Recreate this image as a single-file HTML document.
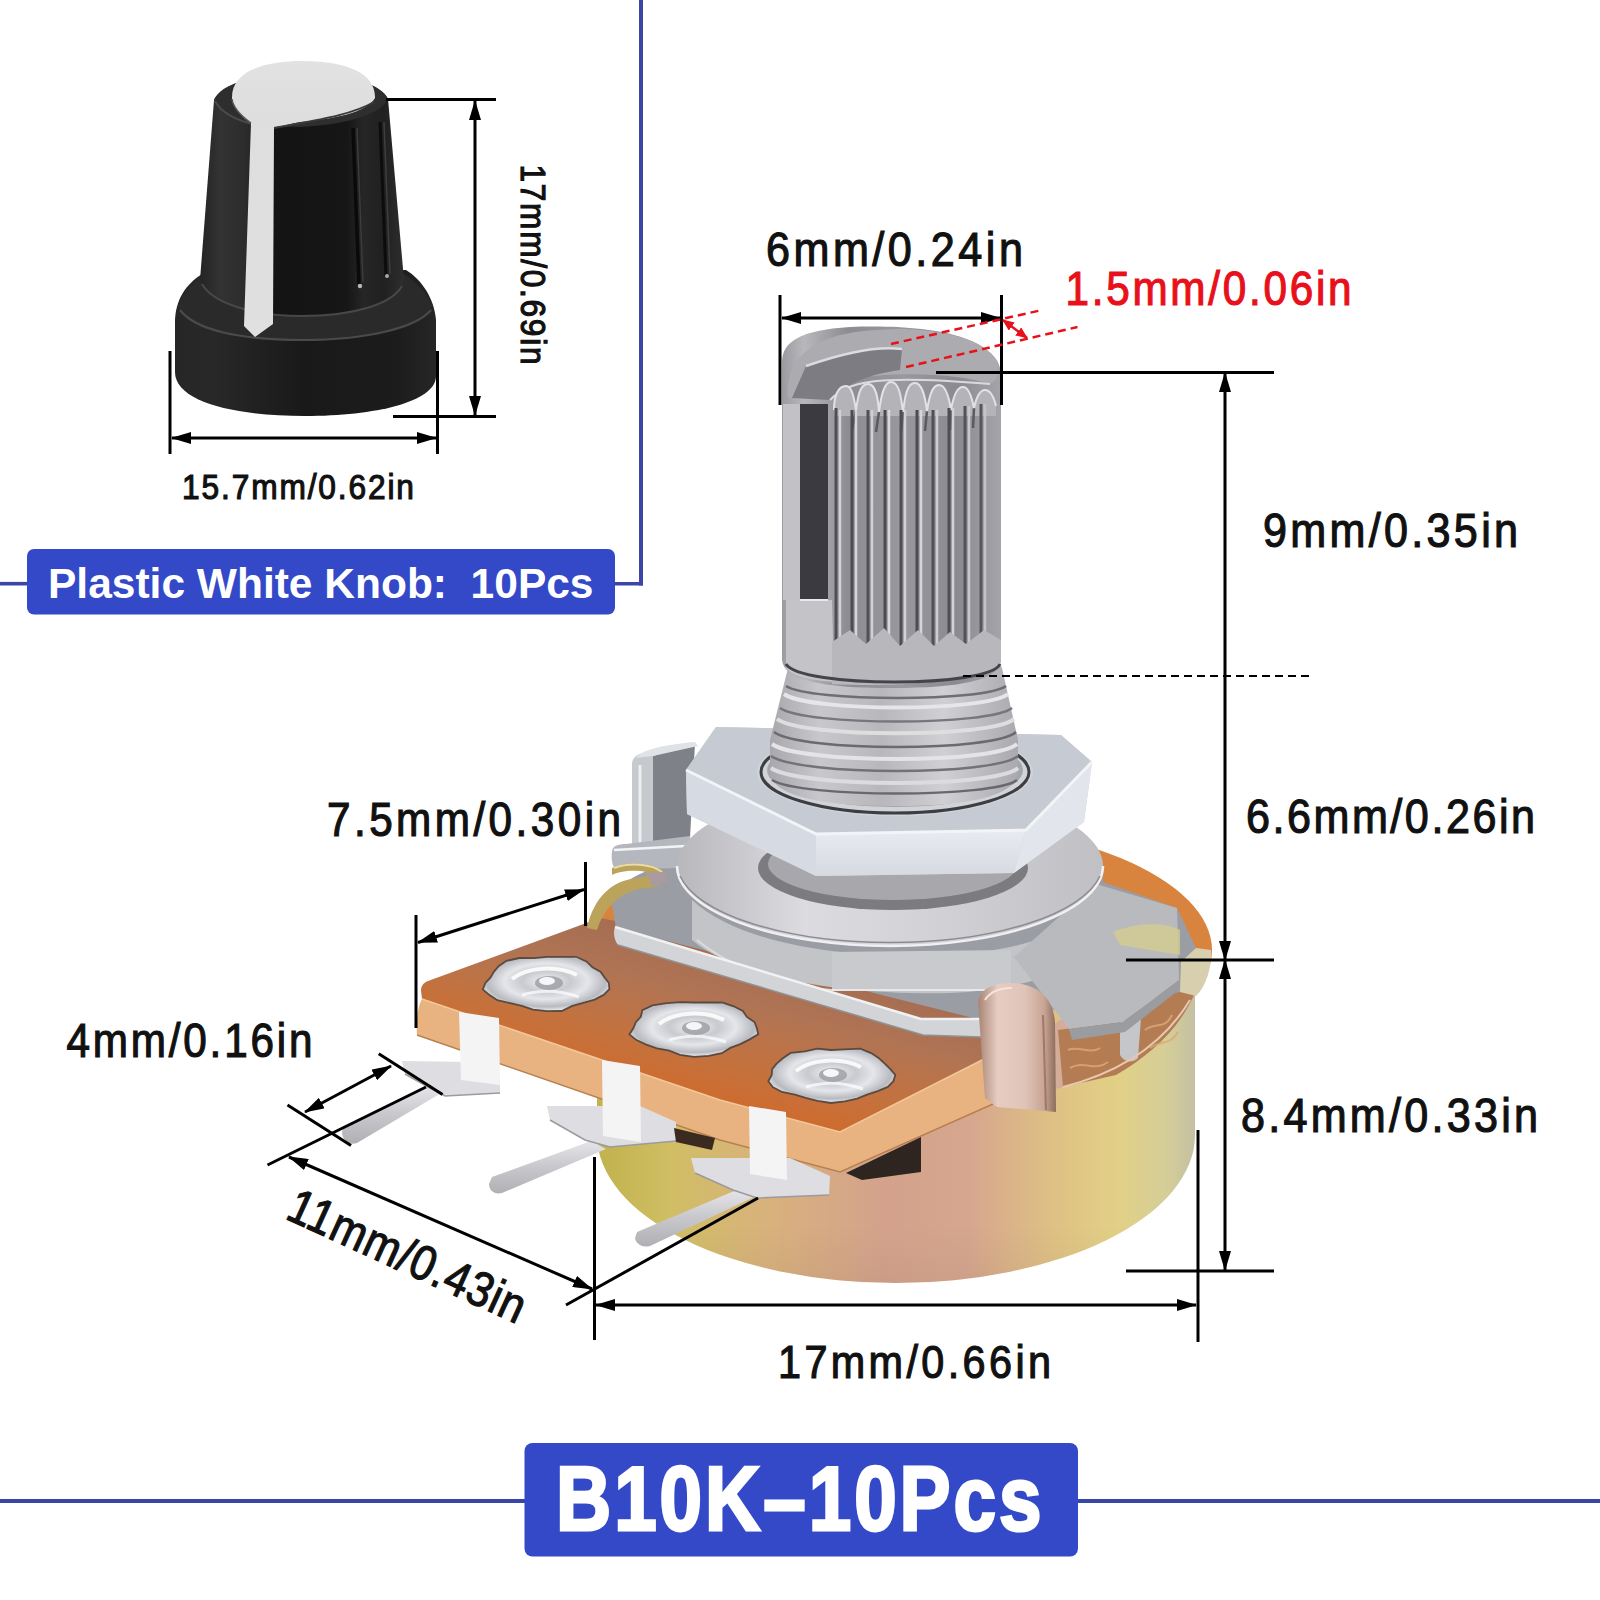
<!DOCTYPE html>
<html><head><meta charset="utf-8">
<style>
html,body{margin:0;padding:0;background:#fff;}
#root{position:relative;width:1600px;height:1600px;overflow:hidden;background:#fff;}
svg{position:absolute;left:0;top:0;}
text{font-family:"Liberation Sans",sans-serif;}
</style></head>
<body><div id="root">
<svg width="1600" height="1600" viewBox="0 0 1600 1600">
<defs>
  <marker id="ah" viewBox="0 0 20 12" refX="19" refY="6" markerWidth="20" markerHeight="12" markerUnits="userSpaceOnUse" orient="auto-start-reverse">
    <path d="M0,0 L20,6 L0,12 z" fill="#000"/>
  </marker>
  <marker id="ahr" viewBox="0 0 12 10" refX="11" refY="5" markerWidth="12" markerHeight="10" markerUnits="userSpaceOnUse" orient="auto-start-reverse">
    <path d="M0,0 L12,5 L0,10 z" fill="#e8101a"/>
  </marker>
</defs>

<!-- ============ KNOB ============ -->
<g id="knob">
  <defs>
    <linearGradient id="kbody" x1="200" y1="0" x2="404" y2="0" gradientUnits="userSpaceOnUse">
      <stop offset="0" stop-color="#242424"/>
      <stop offset="0.1" stop-color="#333"/>
      <stop offset="0.22" stop-color="#2c2c2c"/>
      <stop offset="0.36" stop-color="#141414"/>
      <stop offset="0.72" stop-color="#161616"/>
      <stop offset="0.8" stop-color="#262626"/>
      <stop offset="0.9" stop-color="#202020"/>
      <stop offset="1" stop-color="#2e2e2e"/>
    </linearGradient>
    <linearGradient id="kskirt" x1="174" y1="0" x2="436" y2="0" gradientUnits="userSpaceOnUse">
      <stop offset="0" stop-color="#262626"/>
      <stop offset="0.15" stop-color="#282828"/>
      <stop offset="0.5" stop-color="#191919"/>
      <stop offset="0.85" stop-color="#1c1c1c"/>
      <stop offset="1" stop-color="#262626"/>
    </linearGradient>
    <linearGradient id="kwhite" x1="0" y1="61" x2="0" y2="335" gradientUnits="userSpaceOnUse">
      <stop offset="0" stop-color="#e2e2e2"/>
      <stop offset="0.2" stop-color="#dedede"/>
      <stop offset="1" stop-color="#e0e0e0"/>
    </linearGradient>
  </defs>
  <!-- skirt side -->
  <path d="M175,322 C175,300 186,284 202,274 L406,270 C422,280 434,298 436,320 L436,376 C436,402 375,416 305,416 C235,416 175,402 175,372 Z" fill="url(#kskirt)"/>
  <!-- skirt top ring -->
  <path d="M178,306 C186,290 196,280 204,276 L404,274 C416,282 426,292 432,306 C420,326 370,340 303,340 C236,340 188,326 178,306 Z" fill="#2a2a2a"/>
  <path d="M180,310 C195,330 240,340 303,340 C366,340 416,328 431,310" stroke="#4a4a4a" stroke-width="2.2" fill="none"/>
  <!-- upper body -->
  <path d="M214,100 C222,84 250,74 301,74 C352,74 380,84 388,99 L404,280 C400,300 360,316 302,316 C244,316 204,300 200,280 Z" fill="url(#kbody)"/>
  <path d="M202,284 C212,302 250,316 302,316 C354,316 392,304 402,286" stroke="#484848" stroke-width="2" fill="none"/>
  <!-- rim top -->
  <path d="M214,100 C220,86 245,76 301,75 C357,76 382,86 388,99 C382,112 355,124 300,127 C245,126 220,114 214,100 Z" fill="#2e2e2e"/>
  <path d="M215,101 C222,114 240,122 262,126" stroke="#4a4a4a" stroke-width="2" fill="none"/>
  <!-- ribs -->
  <path d="M353,128 L359,284" stroke="#0a0a0a" stroke-width="3.5" fill="none"/>
  <path d="M357,128 L363,282" stroke="#3c3c3c" stroke-width="1.5" fill="none"/>
  <path d="M380,122 L386,276" stroke="#0c0c0c" stroke-width="3" fill="none"/>
  <path d="M384,122 L390,274" stroke="#3e3e3e" stroke-width="1.5" fill="none"/>
  <circle cx="360" cy="286" r="2.2" fill="#b8b8b8"/>
  <circle cx="387" cy="276" r="2" fill="#a8a8a8"/>
  <!-- white dome + stripe -->
  <path d="M232,99 C231,72 262,61 303,61 C344,61 376,72 375,98 C368,110 345,118 300,122 C290,124 282,126 274,128 L273,324 L255,337 L244,326 L251,123 C242,118 233,108 232,99 Z" fill="url(#kwhite)"/>
  <path d="M274,128 C310,121 350,116 374,102" stroke="#3a3a3a" stroke-width="2" fill="none"/>
  <path d="M251,123 C240,115 233,108 232,99" stroke="#555" stroke-width="1.5" fill="none"/>
</g>

<!-- ============ POT ============ -->
<g id="pot">
  <defs>
    <linearGradient id="can" x1="597" y1="0" x2="1195" y2="0" gradientUnits="userSpaceOnUse">
      <stop offset="0" stop-color="#c0b24c"/>
      <stop offset="0.12" stop-color="#d0be64"/>
      <stop offset="0.28" stop-color="#d8b27c"/>
      <stop offset="0.48" stop-color="#d4a28c"/>
      <stop offset="0.62" stop-color="#d6a68e"/>
      <stop offset="0.76" stop-color="#dec084"/>
      <stop offset="0.87" stop-color="#e2d086"/>
      <stop offset="0.95" stop-color="#d6ce98"/>
      <stop offset="1" stop-color="#c4c0a2"/>
    </linearGradient>
    <linearGradient id="canv" x1="0" y1="990" x2="0" y2="1283" gradientUnits="userSpaceOnUse">
      <stop offset="0" stop-color="#fff" stop-opacity="0"/>
      <stop offset="0.8" stop-color="#000" stop-opacity="0.0"/>
      <stop offset="1" stop-color="#000" stop-opacity="0.04"/>
    </linearGradient>
    <linearGradient id="shaft" x1="782" y1="0" x2="1001" y2="0" gradientUnits="userSpaceOnUse">
      <stop offset="0" stop-color="#9a9aa0"/>
      <stop offset="0.1" stop-color="#b8b8bc"/>
      <stop offset="0.3" stop-color="#8c8c92"/>
      <stop offset="0.55" stop-color="#98989e"/>
      <stop offset="0.8" stop-color="#8a8a90"/>
      <stop offset="1" stop-color="#a4a4aa"/>
    </linearGradient>
    <linearGradient id="bush" x1="770" y1="0" x2="1018" y2="0" gradientUnits="userSpaceOnUse">
      <stop offset="0" stop-color="#a8a8ac"/>
      <stop offset="0.2" stop-color="#c8c8cc"/>
      <stop offset="0.45" stop-color="#b8b8bc"/>
      <stop offset="0.7" stop-color="#d0d0d4"/>
      <stop offset="1" stop-color="#aaaaae"/>
    </linearGradient>
    <linearGradient id="nutfront" x1="0" y1="830" x2="0" y2="876" gradientUnits="userSpaceOnUse">
      <stop offset="0" stop-color="#e8ebf0"/>
      <stop offset="1" stop-color="#d6d9e0"/>
    </linearGradient>
    <linearGradient id="washer" x1="677" y1="0" x2="1103" y2="0" gradientUnits="userSpaceOnUse">
      <stop offset="0" stop-color="#b8b8bc"/>
      <stop offset="0.3" stop-color="#dcdce0"/>
      <stop offset="0.6" stop-color="#d2d2d6"/>
      <stop offset="1" stop-color="#c0c0c4"/>
    </linearGradient>
    <linearGradient id="pcbtop" x1="700" y1="935" x2="660" y2="1095" gradientUnits="userSpaceOnUse">
      <stop offset="0" stop-color="#a46c52"/>
      <stop offset="0.35" stop-color="#b07454"/>
      <stop offset="0.7" stop-color="#c4723e"/>
      <stop offset="1" stop-color="#d06a2c"/>
    </linearGradient>
    <linearGradient id="pin" x1="0" y1="0" x2="0" y2="1">
      <stop offset="0" stop-color="#e6e6ea"/>
      <stop offset="0.5" stop-color="#c8c8cc"/>
      <stop offset="1" stop-color="#b0b0b4"/>
    </linearGradient>
    <radialGradient id="pad" cx="0.5" cy="0.45" r="0.55">
      <stop offset="0" stop-color="#f2f4f6"/>
      <stop offset="0.35" stop-color="#c8cacf"/>
      <stop offset="0.6" stop-color="#e4e6ea"/>
      <stop offset="0.85" stop-color="#b8bac0"/>
      <stop offset="1" stop-color="#eef0f2"/>
    </radialGradient>
    <linearGradient id="clip" x1="0" y1="0" x2="1" y2="0">
      <stop offset="0" stop-color="#a88474"/>
      <stop offset="0.25" stop-color="#e6ccc2"/>
      <stop offset="0.6" stop-color="#e0c4b8"/>
      <stop offset="0.85" stop-color="#c8a494"/>
      <stop offset="1" stop-color="#8c6c5c"/>
    </linearGradient>
  </defs>

  <!-- back orange disk -->
  <ellipse cx="900" cy="950" rx="312" ry="130" fill="#d8843f"/>
  <!-- can body -->
  <path d="M597,995 L1195,995 L1195,1135 A299,148 0 0 1 597,1135 Z" fill="url(#can)"/>
  <path d="M597,995 L1195,995 L1195,1135 A299,148 0 0 1 597,1135 Z" fill="url(#canv)"/>
  <!-- can top lip (pinkish) -->
  <path d="M1197,992 C1170,1040 1110,1075 1063,1087 L985,1108 L960,1095 L1060,1020 L1190,975 Z" fill="#d4ac9a"/>
  <!-- copper crinkle band -->
  <path d="M1058,1030 L1120,1022 L1180,985 L1196,990 C1180,1030 1150,1055 1116,1075 L1063,1087 Z" fill="#b47c52"/>
  <g fill="none" stroke="#e0a878" stroke-width="2" opacity="0.8">
    <path d="M1068,1050 C1078,1045 1090,1055 1100,1048"/>
    <path d="M1070,1068 C1085,1060 1095,1072 1108,1062"/>
    <path d="M1145,1030 C1155,1022 1165,1030 1172,1015"/>
    <path d="M1150,1048 C1160,1040 1170,1046 1178,1032"/>
  </g>
  <path d="M1120,1022 L1141,1018 L1138,1058 C1132,1064 1124,1062 1120,1055 Z" fill="#c4c6ca"/>
  <path d="M1063,1087 C1110,1075 1160,1050 1190,1000" stroke="#e8c8b0" stroke-width="2" fill="none"/>

  <!-- PCB tab -->
  <path d="M421,991 C421,986 423,983 428,981 L600,918 L1000,995 L1000,1055 L992,1055 L840,1132 L720,1100 L422,999 Z" fill="url(#pcbtop)"/>
  <path d="M422,999 L720,1100 L840,1132 L992,1055 L993,1104 L840,1172 L720,1140 L417,1035 C416,1020 418,1006 422,999 Z" fill="#e9b381"/>
  <path d="M422,999 L720,1100 L840,1132 L992,1055" stroke="#f2c898" stroke-width="1.5" fill="none"/>
  <path d="M417,1035 L720,1140 L840,1172 L993,1104" stroke="#b88050" stroke-width="1.5" fill="none"/>

  <!-- bracket plate top surface -->
  <path d="M612,905 C613,890 625,878 660,866 L1103,866 L1103,882 L1177,908 L1196,948 L1196,990 L981,1020 L616,928 Z" fill="#9a9ea4"/>
  <!-- boss under washer -->
  <path d="M692,900 C740,945 850,960 950,955 C1030,950 1090,925 1106,900 L1106,935 C1090,970 1020,990 950,993 C850,995 740,980 692,940 Z" fill="#c2c4c8"/>
  <path d="M832,952 L1011,950 L1011,990 L832,990 Z" fill="#c8cacd"/>
  <path d="M832,990 L1011,990" stroke="#e6e8ea" stroke-width="2" fill="none"/>
  <path d="M697,940 C740,975 800,988 832,990" stroke="#dadcde" stroke-width="2" fill="none"/>
  <!-- plate front face -->
  <path d="M615,927 L921,1019 L981,1019 L981,1037 L923,1035 L618,945 C614,940 613,932 615,927 Z" fill="#d2d4d8"/>
  <path d="M615,927 L921,1019 L981,1019" stroke="#f0f2f4" stroke-width="2.5" fill="none"/>
  <path d="M618,945 L923,1035 L981,1037" stroke="#909296" stroke-width="1.5" fill="none"/>

  <!-- can lip right corner -->
  <path d="M1181,962 L1196,948 L1211,950 C1212,968 1206,986 1196,996 L1180,992 Z" fill="#d8cfae"/>
  <!-- gray clip block right -->
  <path d="M1014,957 L1096,884 L1177,908 L1179,980 L1123,1022 L1069,1029 Z" fill="#b8babe"/>
  <path d="M1069,1029 L1123,1022 L1179,980 L1179,990 L1125,1032 L1072,1040 Z" fill="#9a9ca0"/>
  <path d="M1113,932 C1130,925 1160,920 1180,930 L1180,955 L1120,945 Z" fill="#d4cc90" opacity="0.8"/>

  <!-- left small lug tab -->
  <path d="M653,756 L695,743 L690,838 L653,852 Z" fill="#7e8288"/>
  <path d="M632,764 C632,756 640,752 653,752 L653,852 L632,860 Z" fill="#c6c9ce"/>
  <path d="M636,758 C642,750 660,745 695,742 L698,746 L653,756 Z" fill="#dfe2e6"/>
  <path d="M640,765 L640,850" stroke="#eceef0" stroke-width="3" fill="none"/>
  <!-- ear plate -->
  <path d="M612,852 C612,846 618,844 626,844 L690,836 L692,852 L676,868 L616,870 C612,866 611,858 612,852 Z" fill="#b4b8be"/>
  <path d="M614,850 L686,846" stroke="#f2f4f6" stroke-width="2.5" fill="none"/>
  <!-- brass clip -->
  <path d="M612,868 C628,860 655,862 665,873 C669,881 661,887 646,888 C626,890 606,902 597,930 L587,928 C594,897 612,880 638,878 C650,877 652,872 640,871 C628,870 618,872 612,875 Z" fill="#bba35c"/>
  <path d="M614,868 C630,862 652,864 662,872" stroke="#eadca8" stroke-width="2" fill="none"/>
  <path d="M647,873 L664,872 L668,882 L652,886 Z" fill="#a89aa0"/>

  <!-- washer -->
  <ellipse cx="890" cy="866" rx="213" ry="80" fill="url(#washer)"/>
  <path d="M677,866 A213,80 0 0 0 1103,866" fill="none" stroke="#f0f0f4" stroke-width="2.5"/>
  <path d="M680,876 A213,80 0 0 0 1100,876" fill="none" stroke="#8c8c90" stroke-width="1.5"/>
  <!-- threads under nut -->
  <ellipse cx="893" cy="868" rx="135" ry="42" fill="#7c7c80"/>
  <ellipse cx="893" cy="864" rx="125" ry="36" fill="#a8a8ac"/>

  <!-- hex nut -->
  <path d="M686,770 L716,727 L1061,735 L1092,762 L1084,822 L1014,873 L816,876 L687,814 Z" fill="#ccd0d8"/>
  <path d="M686,770 L816,834 L816,876 L687,814 Z" fill="#d6dae2"/>
  <path d="M816,834 L1026,830 L1014,873 L816,876 Z" fill="url(#nutfront)"/>
  <path d="M1026,830 L1092,762 L1084,822 L1014,873 Z" fill="#e2e6ec"/>
  <path d="M716,727 L1061,735 L1092,762 L1026,830 L816,834 L686,770 Z" fill="#c6cad2"/>
  <path d="M686,770 L816,834 L1026,830 L1092,762" fill="none" stroke="#f2f4f8" stroke-width="3"/>
  <!-- nut inner ring -->
  <ellipse cx="895" cy="772" rx="138" ry="44" fill="#d0d3d8"/>
  <ellipse cx="895" cy="772" rx="134" ry="41" fill="none" stroke="#3c3e44" stroke-width="3"/>
  <ellipse cx="895" cy="770" rx="128" ry="37" fill="#a4a6aa"/>

  <!-- threaded bushing -->
  <path d="M788,668 C792,656 830,650 895,650 C960,650 998,656 1002,668 L1018,740 L1018,772 C1016,796 970,806 895,806 C820,806 772,796 770,772 L770,740 Z" fill="url(#bush)"/>
  <g fill="none" stroke-width="2.5">
    <path d="M786,686 C810,702 985,702 1006,686" stroke="#6e6e74"/>
    <path d="M780,708 C805,726 990,726 1012,708" stroke="#76767c"/>
    <path d="M774,732 C800,752 995,752 1016,732" stroke="#6a6a70"/>
    <path d="M771,756 C800,776 995,776 1018,756" stroke="#727278"/>
    <path d="M772,780 C800,798 995,798 1017,780" stroke="#68686e"/>
  </g>
  <g fill="none" stroke-width="4">
    <path d="M784,694 C810,712 985,712 1008,694" stroke="#e6e6ea"/>
    <path d="M777,719 C802,738 992,738 1014,719" stroke="#dededf"/>
    <path d="M772,744 C800,764 995,764 1017,744" stroke="#e4e4e8"/>
    <path d="M771,768 C800,788 995,788 1018,768" stroke="#dcdce0"/>
  </g>
  

  <!-- shaft -->
  <path d="M782,362 C782,342 800,330 850,327 C930,324 995,336 1001,372 L1001,660 C1001,680 960,688 892,688 C820,688 784,680 782,660 Z" fill="url(#shaft)"/>
  <!-- shaft top face -->
  <path d="M788,398 C786,368 800,346 840,335 C900,322 980,330 998,362 C1000,374 996,382 990,384 C960,374 900,370 840,380 L828,398 Z" fill="#acacb0"/>
  <path d="M792,398 L806,366 C846,352 880,346 902,349 L900,370 C872,374 848,382 830,400 Z" fill="#7c7c82"/>
  <path d="M806,366 C846,352 880,346 902,349" stroke="#dcdce0" stroke-width="2.5" fill="none"/>
  <path d="M830,400 C848,382 872,374 990,384" stroke="#dadade" stroke-width="2" fill="none"/>
  <!-- crown teeth -->
  <path d="M834,410 C834,396 838,386 846,386 C852,386 854,398 856,410 C858,396 860,384 868,384 C876,384 878,398 879,412 C881,396 884,382 891,382 C899,382 901,396 903,412 C905,396 907,383 915,383 C922,383 925,396 927,411 C929,397 932,385 939,385 C946,385 949,397 951,410 C953,398 956,387 963,387 C969,387 972,398 974,408 C976,399 979,390 985,390 C991,390 994,398 996,406 L996,416 L834,416 Z" fill="#b4b4b8"/>
  <g fill="none" stroke="#5a5a60" stroke-width="2.5">
    <path d="M856,410 L852,430"/><path d="M879,412 L876,432"/><path d="M903,412 L901,432"/><path d="M927,411 L925,431"/><path d="M951,410 L950,430"/><path d="M974,408 L973,428"/>
  </g>
  <path d="M834,410 C834,396 838,386 846,386 C852,386 854,398 856,410 C858,396 860,384 868,384 C876,384 878,398 879,412 C881,396 884,382 891,382 C899,382 901,396 903,412 C905,396 907,383 915,383 C922,383 925,396 927,411 C929,397 932,385 939,385 C946,385 949,397 951,410 C953,398 956,387 963,387 C969,387 972,398 974,408 C976,399 979,390 985,390 C991,390 994,398 996,406" fill="none" stroke="#e2e2e6" stroke-width="2"/>
  <!-- slot -->
  <rect x="800" y="404" width="28" height="196" fill="#3a3a40"/>
  <rect x="783" y="404" width="17" height="196" fill="#c2c2c6"/>
  <path d="M786,600 L832,600 L834,682 C810,680 790,676 786,668 Z" fill="#c4c4c8"/>
  <path d="M800,600 L828,600" stroke="#e8e8ec" stroke-width="2" fill="none"/>
  <!-- ribs -->
  <g stroke-width="3" fill="none">
    <path d="M836,408 L836,655" stroke="#4e4e54"/>
    <path d="M852,410 L852,660" stroke="#4c4c52"/>
    <path d="M868,410 L868,660" stroke="#505056"/>
    <path d="M885,410 L885,662" stroke="#4a4a50"/>
    <path d="M901,410 L901,662" stroke="#4e4e54"/>
    <path d="M917,410 L917,662" stroke="#4c4c52"/>
    <path d="M933,410 L933,660" stroke="#505056"/>
    <path d="M949,408 L949,658" stroke="#4e4e54"/>
    <path d="M965,406 L965,655" stroke="#525258"/>
    <path d="M981,404 L981,650" stroke="#56565c"/>
  </g>
  <g stroke-width="2.5" fill="none">
    <path d="M840,410 L840,655" stroke="#d2d2d6"/>
    <path d="M856,410 L856,660" stroke="#d6d6da"/>
    <path d="M872,410 L872,660" stroke="#d0d0d4"/>
    <path d="M889,410 L889,662" stroke="#d8d8dc"/>
    <path d="M905,410 L905,662" stroke="#d2d2d6"/>
    <path d="M921,410 L921,662" stroke="#d6d6da"/>
    <path d="M937,410 L937,660" stroke="#cccccf"/>
    <path d="M953,408 L953,658" stroke="#d2d2d6"/>
    <path d="M969,406 L969,655" stroke="#c8c8cc"/>
    <path d="M985,404 L985,650" stroke="#c4c4c8"/>
  </g>
  <path d="M832,642 L850,630 L866,644 L884,628 L900,646 L918,630 L934,646 L950,632 L966,644 L984,630 L1001,640 L1001,662 C990,680 900,688 832,684 Z" fill="#b8b8bc"/>
  <path d="M786,664 C800,688 990,688 1000,664" stroke="#44444a" stroke-width="3" fill="none"/>

  <!-- solder pads -->
  <path d="M608.9,983.0 L609.4,989.2 L603.6,994.9 L594.7,999.6 L583.2,1002.8 L572.3,1005.9 L561.7,1011.0 L547.0,1011.2 L533.0,1009.7 L521.8,1005.8 L510.2,1003.1 L497.4,1000.2 L489.5,995.1 L482.8,989.4 L485.4,983.0 L490.6,977.4 L493.8,971.8 L498.6,966.2 L506.4,960.8 L519.4,958.0 L534.0,958.2 L547.0,956.8 L560.7,956.9 L576.0,956.8 L586.5,961.4 L592.4,967.2 L600.5,971.8 L604.4,977.3 Z" fill="url(#pad)" stroke="#5a4a40" stroke-width="1.8"/>
  <path d="M512,979 C527,967 557,965 577,975" stroke="#ffffff" stroke-width="4" fill="none" opacity="0.85"/>
  <path d="M522,995 C542,989 562,991 579,997" stroke="#ffffff" stroke-width="3" fill="none" opacity="0.7"/>
  <ellipse cx="549" cy="983" rx="14" ry="7" fill="#9a9ca2" opacity="0.8"/>
  <ellipse cx="547" cy="981" rx="8" ry="4" fill="#f4f6f8"/>
  <path d="M756.8,1028.0 L758.2,1034.4 L749.3,1039.6 L740.4,1044.1 L730.4,1047.9 L721.9,1053.2 L708.6,1055.8 L694.0,1056.9 L680.0,1054.8 L669.1,1050.6 L656.9,1048.3 L646.2,1044.6 L636.5,1040.1 L629.4,1034.4 L633.4,1028.0 L635.8,1022.2 L640.8,1016.8 L642.4,1010.1 L652.6,1005.4 L666.6,1003.2 L680.5,1002.2 L694.0,1002.5 L707.4,1002.5 L722.1,1002.5 L733.7,1006.3 L742.9,1011.0 L746.9,1016.9 L754.5,1022.0 Z" fill="url(#pad)" stroke="#5a4a40" stroke-width="1.8"/>
  <path d="M659,1024 C674,1012 704,1010 724,1020" stroke="#ffffff" stroke-width="4" fill="none" opacity="0.85"/>
  <path d="M669,1040 C689,1034 709,1036 726,1042" stroke="#ffffff" stroke-width="3" fill="none" opacity="0.7"/>
  <ellipse cx="696" cy="1028" rx="14" ry="7" fill="#9a9ca2" opacity="0.8"/>
  <ellipse cx="694" cy="1026" rx="8" ry="4" fill="#f4f6f8"/>
  <path d="M895.3,1075.0 L893.4,1081.2 L887.8,1086.9 L877.7,1091.2 L867.1,1094.7 L857.2,1098.7 L844.8,1101.4 L831.0,1103.0 L817.5,1100.8 L805.7,1097.9 L794.9,1094.7 L782.0,1092.0 L773.0,1087.2 L768.3,1081.2 L771.7,1075.0 L772.1,1069.1 L776.6,1063.6 L782.8,1058.3 L790.6,1052.9 L804.9,1051.4 L817.2,1048.7 L831.0,1050.0 L844.5,1049.3 L860.2,1048.6 L871.2,1053.1 L879.0,1058.3 L884.8,1063.7 L890.4,1069.1 Z" fill="url(#pad)" stroke="#5a4a40" stroke-width="1.8"/>
  <path d="M796,1071 C811,1059 841,1057 861,1067" stroke="#ffffff" stroke-width="4" fill="none" opacity="0.85"/>
  <path d="M806,1087 C826,1081 846,1083 863,1089" stroke="#ffffff" stroke-width="3" fill="none" opacity="0.7"/>
  <ellipse cx="833" cy="1075" rx="14" ry="7" fill="#9a9ca2" opacity="0.8"/>
  <ellipse cx="831" cy="1073" rx="8" ry="4" fill="#f4f6f8"/>

  <!-- pins -->
  <g fill="url(#pin)">
    <path d="M426,1086 L443,1092 L357,1143 C349,1146 342,1140 342,1132 L344,1127 Z"/>
    <path d="M591,1141 L606,1149 L502,1193 C494,1195 489,1190 489,1184 L492,1177 Z"/>
    <path d="M739,1189 L754,1197 L650,1246 C642,1248 636,1244 635,1238 L637,1232 Z"/>
  </g>
  <g fill="#dedee2">
    <path d="M402,1061 L470,1062 L500,1076 L500,1093 L445,1096 L430,1088 L405,1074 Z"/>
    <path d="M547,1106 L640,1106 L676,1122 L676,1141 L610,1147 L585,1140 L550,1120 Z"/>
    <path d="M691,1158 L790,1158 L830,1176 L829,1195 L757,1198 L733,1190 L695,1173 Z"/>
  </g>
  <g fill="none" stroke="#9a9aa0" stroke-width="1.5">
    <path d="M405,1074 L430,1088 L445,1096 L500,1093"/>
    <path d="M550,1120 L585,1140 L610,1147 L676,1141"/>
    <path d="M695,1173 L733,1190 L757,1198 L829,1195"/>
  </g>
  <!-- lugs -->
  <g fill="#f4f4f4">
    <path d="M459,1012 L499,1018 L500,1085 L461,1080 Z"/>
    <path d="M602,1060 L640,1066 L641,1142 L603,1136 Z"/>
    <path d="M749,1106 L786,1112 L787,1180 L750,1174 Z"/>
  </g>
  <!-- dark gaps under pcb -->
  <path d="M674,1128 L715,1138 L712,1150 L676,1142 Z" fill="#3a2a20"/>
  <path d="M846,1173 L921,1137 L921,1172 L862,1180 Z" fill="#2e2420"/>

  <!-- front clip tab -->
  <path d="M978,1002 C979,990 992,983 1012,983 C1038,984 1053,998 1055,1022 L1056,1112 L997,1107 L985,1098 Z" fill="url(#clip)"/>
  <path d="M985,1000 C990,992 1000,988 1012,988" stroke="#f4e4dc" stroke-width="2" fill="none"/>
  <path d="M1043,1015 L1046,1110" stroke="#a07868" stroke-width="2" fill="none"/>
</g>


<!-- ============ DIMENSIONS ============ -->
<g id="dims" stroke="#000" stroke-width="3" fill="none">
  <!-- knob height -->
  <line x1="386" y1="99.5" x2="496" y2="99.5"/>
  <line x1="393" y1="416.5" x2="496" y2="416.5"/>
  <line x1="475" y1="101" x2="475" y2="415" marker-start="url(#ah)" marker-end="url(#ah)"/>
  <!-- knob width -->
  <line x1="170" y1="351" x2="170" y2="454"/>
  <line x1="437.5" y1="351" x2="437.5" y2="454"/>
  <line x1="172" y1="438" x2="436" y2="438" marker-start="url(#ah)" marker-end="url(#ah)"/>
  <!-- 6mm shaft width -->
  <line x1="780" y1="295" x2="780" y2="405"/>
  <line x1="1001.5" y1="295" x2="1001.5" y2="405"/>
  <line x1="782" y1="318" x2="1000" y2="318" marker-start="url(#ah)" marker-end="url(#ah)"/>
  <!-- top line -->
  <line x1="936" y1="372.5" x2="1274" y2="372.5"/>
  <!-- vertical 9+6.6 -->
  <line x1="1225" y1="373" x2="1225" y2="960" marker-start="url(#ah)" marker-end="url(#ah)"/>
  <line x1="1126" y1="960" x2="1274" y2="960"/>
  <line x1="1225" y1="960" x2="1225" y2="1270" marker-start="url(#ah)" marker-end="url(#ah)"/>
  <line x1="1126" y1="1271" x2="1274" y2="1271"/>
  <!-- dashed -->
  <line x1="963" y1="676" x2="1310" y2="676" stroke-width="2" stroke-dasharray="8,5"/>
  <!-- 17mm bottom -->
  <line x1="1198" y1="1130" x2="1198" y2="1342"/>
  <line x1="594.5" y1="1157" x2="594.5" y2="1340"/>
  <line x1="596" y1="1305" x2="1196" y2="1305" marker-start="url(#ah)" marker-end="url(#ah)"/>
  <!-- 11mm diagonal -->
  <line x1="289" y1="1157" x2="592" y2="1289" marker-start="url(#ah)" marker-end="url(#ah)"/>
  <line x1="267.5" y1="1165" x2="426" y2="1087"/>
  <line x1="566" y1="1305" x2="758" y2="1198"/>
  <!-- 4mm -->
  <line x1="287.5" y1="1105" x2="351" y2="1145.5"/>
  <line x1="378.75" y1="1053.75" x2="442.5" y2="1094.5"/>
  <line x1="305" y1="1112" x2="391" y2="1066" marker-start="url(#ah)" marker-end="url(#ah)"/>
  <!-- 7.5mm -->
  <line x1="416" y1="915" x2="416" y2="1028"/>
  <line x1="585.5" y1="862" x2="585.5" y2="926"/>
  <line x1="418" y1="942.5" x2="584" y2="889.5" marker-start="url(#ah)" marker-end="url(#ah)"/>
</g>
<g id="reddims" stroke="#e8101a" fill="none">
  <line x1="891" y1="344" x2="1040" y2="310.5" stroke-width="2.5" stroke-dasharray="8,5"/>
  <line x1="906" y1="367" x2="1077.5" y2="327" stroke-width="2.5" stroke-dasharray="8,5"/>
  <line x1="1003" y1="320" x2="1027" y2="338" stroke-width="2.5" marker-start="url(#ahr)" marker-end="url(#ahr)"/>
</g>

<!-- ============ TEXT ============ -->
<g id="labels" fill="#111" stroke="#111" stroke-width="1.2">
  <text transform="translate(182,499) scale(0.88,1)" x="0" y="0" font-size="36" textLength="263.6" lengthAdjust="spacing">15.7mm/0.62in</text>
  <text transform="translate(521,164.5) rotate(90) scale(0.88,1)" x="0" y="0" font-size="36" textLength="227.3" lengthAdjust="spacing">17mm/0.69in</text>
  <text transform="translate(766,266) scale(0.88,1)" x="0" y="0" font-size="49" textLength="292.0" lengthAdjust="spacing">6mm/0.24in</text>
  <text transform="translate(1263,547) scale(0.88,1)" x="0" y="0" font-size="49" textLength="289.8" lengthAdjust="spacing">9mm/0.35in</text>
  <text transform="translate(1246,833) scale(0.88,1)" x="0" y="0" font-size="49" textLength="328.4" lengthAdjust="spacing">6.6mm/0.26in</text>
  <text transform="translate(1241,1132) scale(0.88,1)" x="0" y="0" font-size="49" textLength="337.5" lengthAdjust="spacing">8.4mm/0.33in</text>
  <text transform="translate(327,836) scale(0.88,1)" x="0" y="0" font-size="48" textLength="334.1" lengthAdjust="spacing">7.5mm/0.30in</text>
  <text transform="translate(66.5,1057) scale(0.88,1)" x="0" y="0" font-size="48" textLength="279.5" lengthAdjust="spacing">4mm/0.16in</text>
  <text transform="translate(778,1377.5) scale(0.88,1)" x="0" y="0" font-size="47" textLength="310.2" lengthAdjust="spacing">17mm/0.66in</text>
  <text transform="translate(284,1218) rotate(24.5) scale(0.88,1)" x="0" y="0" font-size="49" textLength="290.9" lengthAdjust="spacing">11mm/0.43in</text>
  <text transform="translate(1065.5,304.5) scale(0.88,1)" x="0" y="0" font-size="48" fill="#e8101a" stroke="#e8101a" textLength="325.0" lengthAdjust="spacing">1.5mm/0.06in</text>
</g>

<!-- ============ BLUE LABELS ============ -->
<g id="blue">
  <line x1="641" y1="0" x2="641" y2="585.5" stroke="#3a47a6" stroke-width="4"/>
  <line x1="610" y1="583.7" x2="643" y2="583.7" stroke="#3a47a6" stroke-width="3.6"/>
  <line x1="0" y1="583.7" x2="30" y2="583.7" stroke="#3a47a6" stroke-width="3.6"/>
  <rect x="27" y="549" width="588" height="65.5" rx="7" fill="#3349c8"/>
  <text x="48" y="598" font-size="43" font-weight="bold" fill="#fff" textLength="545.5" lengthAdjust="spacingAndGlyphs" xml:space="preserve">Plastic White Knob:  10Pcs</text>

  <line x1="0" y1="1501" x2="530" y2="1501" stroke="#3846a6" stroke-width="4"/>
  <line x1="1070" y1="1501" x2="1600" y2="1501" stroke="#3846a6" stroke-width="4"/>
  <rect x="524.5" y="1443" width="553.5" height="113.5" rx="8" fill="#3349c8"/>
  <text transform="translate(556,1530) scale(0.84,1)" x="0" y="0" font-size="91" font-weight="bold" fill="#fff" stroke="#fff" stroke-width="3" textLength="578" lengthAdjust="spacing">B10K&#8211;10Pcs</text>
</g>
</svg>
</div></body></html>
